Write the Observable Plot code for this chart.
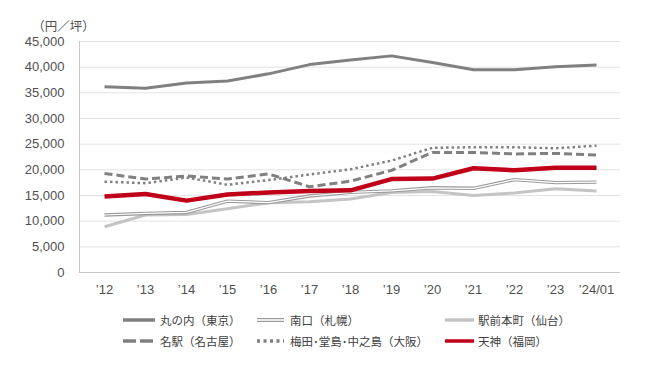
<!DOCTYPE html>
<html>
<head>
<meta charset="utf-8">
<script src="https://cdn.jsdelivr.net/npm/d3@7"></script>
<script src="https://cdn.jsdelivr.net/npm/@observablehq/plot@0.6"></script>
<style>
  html, body { margin: 0; padding: 0; background: #fff; }
  #wrap { position: relative; width: 650px; height: 381px; font-family: "Liberation Sans", "Noto Sans CJK JP", sans-serif; }
  #chart { position: absolute; left: 0; top: 0; }
  .leg { position: absolute; display: flex; align-items: center; font-size: 11.5px; color: #404040; font-family: "Noto Sans CJK JP", sans-serif; white-space: nowrap; }
</style>
</head>
<body>
<div id="wrap">
  <div id="chart"></div>
  <div id="legend"></div>
</div>
<script>
const years = ["’12","’13","’14","’15","’16","’17","’18","’19","’20","’21","’22","’23","’24/01"];
const yTicks = [0,5000,10000,15000,20000,25000,30000,35000,40000,45000];
const unitLabel = "（円／坪）";

const names = ["丸の内（東京）","南口（札幌）","駅前本町（仙台）","名駅（名古屋）","梅田･堂島･中之島（大阪）","天神（福岡）"];
const marunouchi = [36200,35900,36900,37300,38700,40500,41400,42200,40900,39500,39500,40100,40400];
const minamiguchi = [11200,11500,11700,13900,13600,14900,15600,15900,16500,16400,18100,17500,17600];
const ekimae = [8900,11200,11300,12400,13600,13800,14300,15600,15800,15000,15500,16300,15900];
const meieki = [19300,18200,18800,18200,19200,16700,17800,19900,23400,23400,23100,23200,22900];
const umeda = [17700,17400,18500,17100,18000,19100,20100,21800,24300,24400,24400,24200,24700];
const tenjin = [14800,15300,14000,15200,15600,15900,16000,18200,18300,20300,19900,20400,20400];

const seriesValues = [marunouchi, minamiguchi, ekimae, meieki, umeda, tenjin];
const rows = (i) => years.map((yr, j) => ({year: yr, value: seriesValues[i][j], name: names[i]}));

const styles = [
  {stroke: "#808080", strokeWidth: 3},
  {stroke: "#999999", strokeWidth: 3.4, inner: true},
  {stroke: "#c4c4c4", strokeWidth: 3},
  {stroke: "#808080", strokeWidth: 3, strokeDasharray: "8,4", legendDash: "13,4"},
  {stroke: "#808080", strokeWidth: 2.5, strokeDasharray: "2.5,3", legendDash: "3,3.5"},
  {stroke: "#c00018", strokeWidth: 4.5}
];

const leftEdge = (index, scales, values, dims) => {
  const g = d3.create("svg:line")
    .attr("x1", dims.marginLeft + 0.5).attr("x2", dims.marginLeft + 0.5)
    .attr("y1", dims.marginTop).attr("y2", dims.height - dims.marginBottom)
    .attr("stroke", "#c8c8c8");
  return g.node();
};

const marks = [
  Plot.gridY(yTicks, {stroke: "#e3e3e3", strokeOpacity: 1, strokeWidth: 1}),
  leftEdge,
  Plot.axisY(yTicks, {tickSize: 0, tickPadding: 15, tickFormat: d3.format(","), label: null, fontSize: 13, fill: "#505050"}),
  Plot.axisX({tickSize: 0, tickPadding: 12, label: null, fontSize: 13, fill: "#505050"}),
  Plot.ruleY([0], {stroke: "#c8c8c8"}),
  Plot.text([unitLabel], {frameAnchor: "top-left", textAnchor: "middle", dx: -16, dy: -19, fontSize: 12.5, fill: "#505050", fontFamily: "Noto Sans CJK JP"})
];
const drawOrder = [0,2,1,3,4,5];
for (const i of drawOrder) {
  const s = styles[i];
  marks.push(Plot.line(rows(i), {x: "year", y: "value", stroke: s.stroke, strokeWidth: s.strokeWidth, strokeDasharray: s.strokeDasharray, strokeLinecap: "butt", strokeLinejoin: "round"}));
  if (s.inner) marks.push(Plot.line(rows(i), {x: "year", y: "value", stroke: "#ffffff", strokeWidth: 1.2, strokeLinejoin: "round"}));
}

const chart = Plot.plot({
  width: 650,
  height: 300,
  marginLeft: 79,
  marginRight: 30,
  marginTop: 41,
  marginBottom: 28,
  style: {fontFamily: "'Liberation Sans', 'Noto Sans CJK JP', sans-serif", fontSize: "13px", background: "#fff"},
  x: {type: "point", domain: years, padding: 0.48},
  y: {domain: [0, 45000]},
  marks
});
document.getElementById("chart").appendChild(chart);

// legend
const legPos = [
  {x: 123, y: 320, w: 32, tx: 160}, {x: 257, y: 320, w: 27, tx: 290}, {x: 445, y: 320, w: 29, tx: 478},
  {x: 123, y: 341, w: 32, tx: 160}, {x: 257, y: 341, w: 27, tx: 290}, {x: 445, y: 341, w: 29, tx: 478}
];
const legend = document.getElementById("legend");
[0,1,2,3,4,5].forEach((i, k) => {
  const s = styles[i];
  const p = legPos[k];
  const sw = document.createElementNS("http://www.w3.org/2000/svg", "svg");
  sw.setAttribute("width", p.w);
  sw.setAttribute("height", 10);
  sw.style.position = "absolute";
  sw.style.left = p.x + "px";
  sw.style.top = (p.y - 5) + "px";
  let inner = `<line x1="0" x2="${p.w}" y1="5" y2="5" stroke="${s.stroke}" stroke-width="${s.inner ? 4 : 3.5}" ${s.legendDash ? `stroke-dasharray="${s.legendDash}"` : ""}/>`;
  if (s.inner) inner += `<line x1="0" x2="${p.w}" y1="5" y2="5" stroke="#fff" stroke-width="1.6"/>`;
  sw.innerHTML = inner;
  legend.appendChild(sw);
  const d = document.createElement("div");
  d.className = "leg";
  d.style.left = p.tx + "px";
  d.style.top = (p.y - 10) + "px";
  d.style.height = "20px";
  d.textContent = names[i];
  legend.appendChild(d);
});
</script>
</body>
</html>
